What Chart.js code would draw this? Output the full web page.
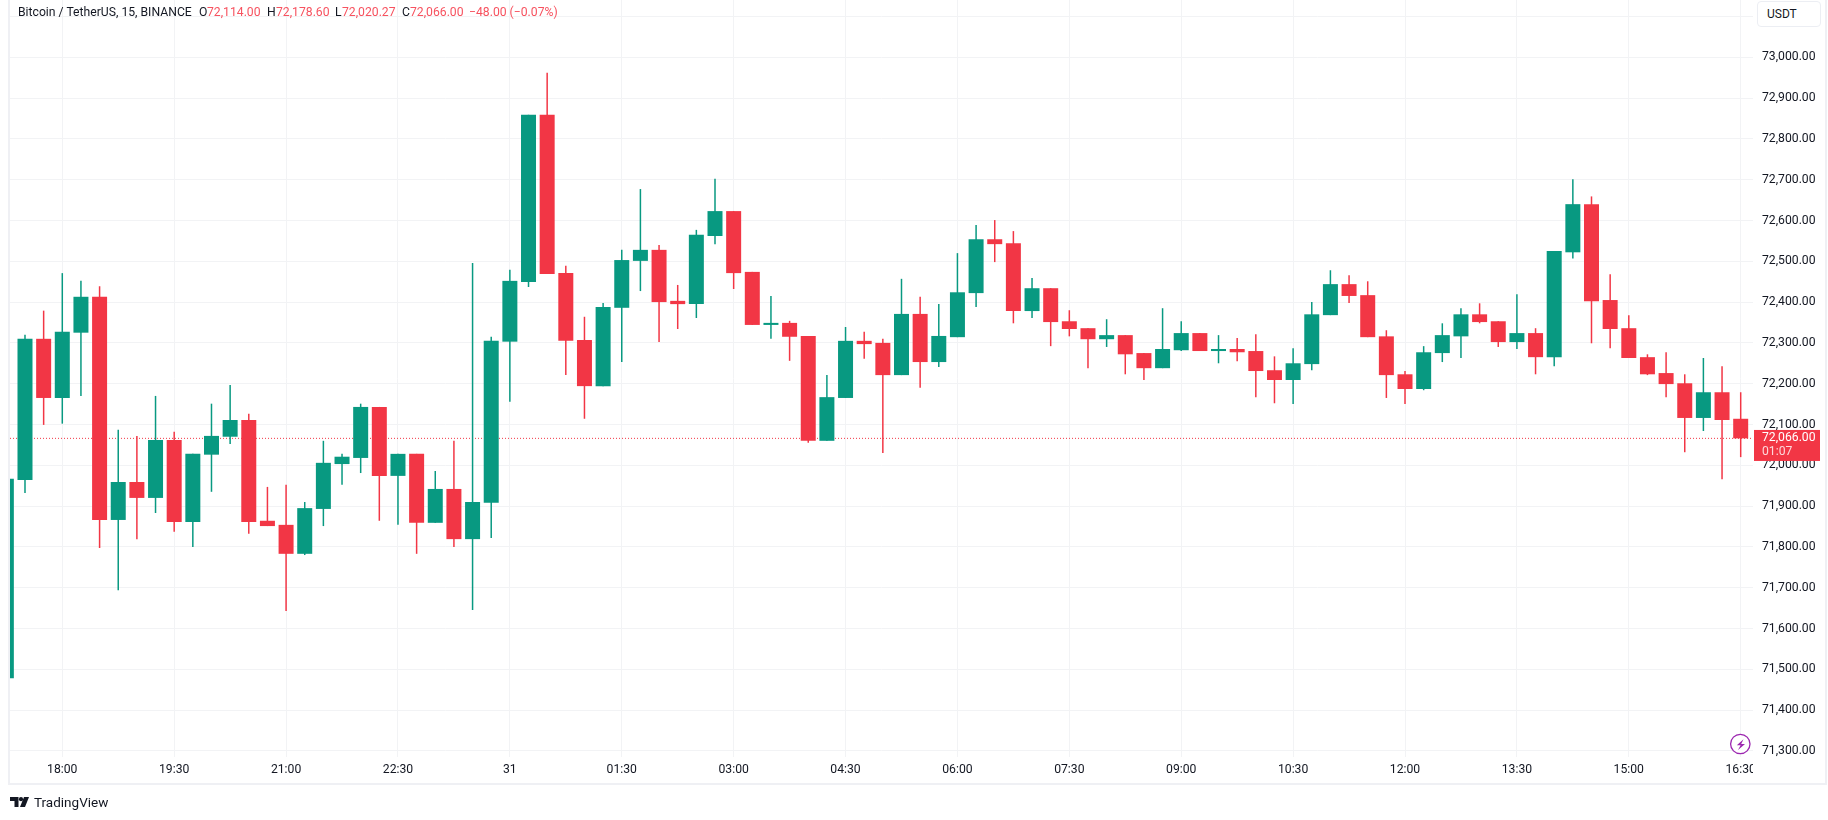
<!DOCTYPE html>
<html>
<head>
<meta charset="utf-8">
<title>Bitcoin / TetherUS, 15, BINANCE</title>
<script src="https://cdn.jsdelivr.net/npm/chart.js@4"></script>
<style>
    html, body { margin: 0; padding: 0; background: #fff; width: 1828px; height: 820px; overflow: hidden; font-family: Roboto, sans-serif; }
    canvas { position: absolute; left: 0; top: 0; }
    .frame { position: absolute; left: 8px; top: 0; width: 1815px; height: 783px; border: 2px solid #eff0f4; border-top: 0; }
    .lbl { position: absolute; font-size: 12.2px; line-height: 16px; white-space: nowrap; color: #131722; }
    .red { color: #f7525f; }
    .usdt { position: absolute; left: 1757px; top: 1px; width: 62px; height: 24px; border: 1px solid #eceef3; border-radius: 4px; background: #fff; font-size: 12px; line-height: 25px; color: #131722; text-indent: 9px; }
    .brand { position: absolute; left: 34px; top: 793px; font-size: 13.5px; line-height: 18px; color: #131722; }
    svg { position: absolute; left: 0; top: 0; pointer-events: none; }
</style>
</head>
<body>
<canvas id="chart" width="1828" height="820"></canvas>
<div class="frame"></div>
<div class="lbl" style="left:18px;top:4px">Bitcoin / TetherUS, 15, BINANCE</div>
<div class="lbl" style="left:199px;top:4px">O</div><div class="lbl red" style="left:207px;top:4px">72,114.00</div>
<div class="lbl" style="left:267px;top:4px">H</div><div class="lbl red" style="left:276px;top:4px">72,178.60</div>
<div class="lbl" style="left:335px;top:4px">L</div><div class="lbl red" style="left:342px;top:4px">72,020.27</div>
<div class="lbl" style="left:402px;top:4px">C</div><div class="lbl red" style="left:410px;top:4px">72,066.00</div>
<div class="lbl red" style="left:469px;top:4px">−48.00 (−0.07%)</div>
<div class="usdt">USDT</div>
<div class="brand">TradingView</div>
<svg width="1828" height="820">
    <path d="M10 797h8.5v10h-4v-6H10z" fill="#131722"/>
    <circle cx="21" cy="799.2" r="2.1" fill="#131722"/>
    <path d="M24 797h5l-4 10h-5z" fill="#131722"/>
    <circle cx="1740.3" cy="744" r="9.7" fill="#fff" stroke="#9c27b0" stroke-width="1.3"/>
    <path d="M1743.5 739.3L1736.8 745.2H1740.6L1738 750L1745 744H1741.2Z" fill="#9c27b0"/>
</svg>

<script>
// 캔들 시간 (15분봉)
const times = [
    '17:15','17:30','17:45','18:00','18:15','18:30','18:45','19:00','19:15','19:30',
    '19:45','20:00','20:15','20:30','20:45','21:00','21:15','21:30','21:45','22:00',
    '22:15','22:30','22:45','23:00','23:15','23:30','23:45','00:00','00:15','00:30',
    '00:45','01:00','01:15','01:30','01:45','02:00','02:15','02:30','02:45','03:00',
    '03:15','03:30','03:45','04:00','04:15','04:30','04:45','05:00','05:15','05:30',
    '05:45','06:00','06:15','06:30','06:45','07:00','07:15','07:30','07:45','08:00',
    '08:15','08:30','08:45','09:00','09:15','09:30','09:45','10:00','10:15','10:30',
    '10:45','11:00','11:15','11:30','11:45','12:00','12:15','12:30','12:45','13:00',
    '13:15','13:30','13:45','14:00','14:15','14:30','14:45','15:00','15:15','15:30',
    '15:45','16:00','16:15','16:30'
];

const opens = [
    71478,71964,72310,72165,72325,72413,71866,71959,71920,72062,
    71861,72026,72070,72111,71864,71854,71783,71893,72003,72018,
    72143,71974,72028,71859,71942,71819,71908,72303,72449,72859,
    72471,72307,72194,72386,72501,72528,72403,72395,72562,72623,
    72474,72344,72349,72317,72060,72165,72305,72300,72221,72371,
    72253,72314,72422,72554,72544,72378,72434,72353,72336,72309,
    72319,72275,72238,72282,72324,72280,72285,72280,72233,72209,
    72248,72368,72444,72417,72316,72223,72187,72275,72316,72370,
    72353,72302,72324,72265,72522,72640,72405,72336,72265,72226,
    72201,72116,72179,72114
];
const highs = [
    71967,72320,72379,72471,72452,72439,72087,72072,72170,72082,
    72028,72151,72197,72126,71947,71952,71910,72060,72028,72151,
    72143,72028,72028,71986,72060,72496,72315,72479,72859,72962,
    72489,72364,72398,72528,72677,72540,72442,72577,72702,72623,
    72474,72415,72354,72317,72221,72339,72327,72310,72457,72413,
    72395,72520,72589,72601,72574,72459,72434,72380,72336,72358,
    72319,72275,72385,72353,72324,72319,72312,72321,72267,72287,
    72400,72478,72466,72451,72331,72231,72292,72348,72385,72397,
    72353,72419,72336,72525,72701,72659,72468,72368,72272,72277,
    72223,72263,72243,72179
];
const lows = [
    71478,71932,72099,72102,72170,71797,71694,71819,71883,71837,
    71800,71935,72052,71832,71851,71643,71780,71851,71952,71981,
    71864,71854,71783,71859,71800,71645,71822,72156,72437,72469,
    72221,72114,72194,72253,72427,72302,72334,72361,72542,72432,
    72344,72310,72256,72055,72060,72165,72261,72030,72221,72190,
    72241,72314,72388,72498,72348,72361,72292,72316,72238,72290,
    72223,72209,72238,72280,72280,72250,72255,72167,72152,72150,
    72233,72368,72398,72314,72165,72150,72184,72253,72263,72348,
    72290,72285,72223,72243,72507,72299,72287,72263,72221,72167,
    72032,72084,71966,72020
];
const closes = [
    71967,72310,72165,72327,72413,71866,71959,71920,72062,71861,
    72028,72072,72111,71861,71851,71783,71895,72006,72021,72143,
    71974,72028,71859,71942,71819,71910,72305,72452,72859,72469,
    72305,72194,72388,72503,72528,72400,72395,72565,72623,72471,
    72344,72349,72315,72060,72167,72305,72297,72221,72371,72253,
    72317,72424,72554,72542,72378,72434,72351,72334,72309,72319,
    72272,72238,72285,72324,72280,72285,72277,72231,72209,72250,
    72370,72444,72415,72314,72221,72187,72277,72319,72370,72351,
    72302,72324,72265,72525,72640,72402,72334,72263,72223,72199,
    72116,72179,72111,72066
];

const tickTimes = ['18:00','19:30','21:00','22:30','00:00','01:30','03:00','04:30','06:00','07:30','09:00','10:30','12:00','13:30','15:00','16:30'];
const tickLabels = ['18:00','19:30','21:00','22:30','31','01:30','03:00','04:30','06:00','07:30','09:00','10:30','12:00','13:30','15:00','16:30'];

const lastPrice = 72066;
const lastPriceLabel = '72,066.00';
const countdownLabel = '01:07';

const upColor = '#089981';
const downColor = '#f23645';
const gridColor = '#f2f3f5';
const axisText = '#131722';
const fontFamily = "Roboto, sans-serif";

// 화면 범위 (보이는 캔들 슬롯)
const xMin = 0.196, xMax = 93.66;
const yMin = 71285, yMax = 73140.4;

const candleColors = opens.map((o, i) => closes[i] >= o ? upColor : downColor);

// 현재가 라벨 + 축 오른쪽 라벨 잘림 처리
const priceTagPlugin = {
    id: 'priceTag',
    afterDraw(chart) {
        const ctx = chart.ctx;
        const y = chart.scales.y.getPixelForValue(lastPrice);
        ctx.save();
        ctx.fillStyle = '#fff';
        ctx.fillRect(chart.chartArea.right, chart.chartArea.bottom, 70, 27);
        ctx.fillStyle = downColor;
        ctx.fillRect(chart.chartArea.right + 1, y - 8.4, 66, 31);
        ctx.fillStyle = '#fff';
        ctx.font = "12.2px " + fontFamily;
        ctx.textBaseline = 'middle';
        ctx.fillText(lastPriceLabel, chart.chartArea.right + 9, y - 0.5);
        ctx.fillStyle = 'rgba(255,255,255,0.8)';
        ctx.fillText(countdownLabel, chart.chartArea.right + 9, y + 14);
        ctx.restore();
    }
};

new Chart(document.getElementById('chart'), {
    type: 'bar',
    data: {
        datasets: [
            {
                label: 'body',
                order: 1,
                data: times.map((t, i) => ({ x: i, y: [opens[i], closes[i]] })),
                backgroundColor: candleColors,
                barThickness: 15,
                inflateAmount: 0,
                grouped: false
            },
            {
                label: 'wick',
                order: 2,
                data: times.map((t, i) => ({ x: i, y: [lows[i], highs[i]] })),
                backgroundColor: candleColors,
                barThickness: 1.5,
                inflateAmount: 0,
                grouped: false
            },
            {
                type: 'line',
                label: 'last',
                order: 3,
                data: [{ x: xMin, y: lastPrice }, { x: xMax, y: lastPrice }],
                borderColor: downColor,
                borderWidth: 1,
                borderDash: [1, 2],
                pointRadius: 0
            }
        ]
    },
    options: {
        responsive: false,
        animation: false,
        layout: { padding: { left: 10, right: 3, top: 0, bottom: 35 } },
        plugins: { legend: { display: false }, tooltip: { enabled: false } },
        scales: {
            x: {
                type: 'linear',
                offset: false,
                min: xMin,
                max: xMax,
                afterBuildTicks(scale) {
                    scale.ticks = tickTimes.map(t => ({ value: times.indexOf(t) }));
                },
                afterFit(scale) {
                    scale.height = 28;
                    scale.paddingLeft = 0;
                    scale.paddingRight = 0;
                },
                border: { display: false },
                grid: { color: gridColor, offset: false, drawTicks: false },
                ticks: {
                    autoSkip: false,
                    maxRotation: 0,
                    padding: 6,
                    color: axisText,
                    font: { family: fontFamily, size: 12.2 },
                    callback: value => tickLabels[tickTimes.indexOf(times[value])]
                }
            },
            y: {
                position: 'right',
                min: yMin,
                max: yMax,
                afterFit(scale) {
                    scale.width = 72;
                    scale.paddingTop = 0;
                    scale.paddingBottom = 0;
                },
                border: { display: false },
                grid: { color: gridColor, drawTicks: false },
                ticks: {
                    stepSize: 100,
                    includeBounds: false,
                    padding: 9,
                    color: axisText,
                    font: { family: fontFamily, size: 12.2 },
                    callback: value => value > 73000 ? '' : value.toLocaleString('en-US', { minimumFractionDigits: 2 })
                }
            }
        }
    },
    plugins: [priceTagPlugin]
});
</script>
</body>
</html>
